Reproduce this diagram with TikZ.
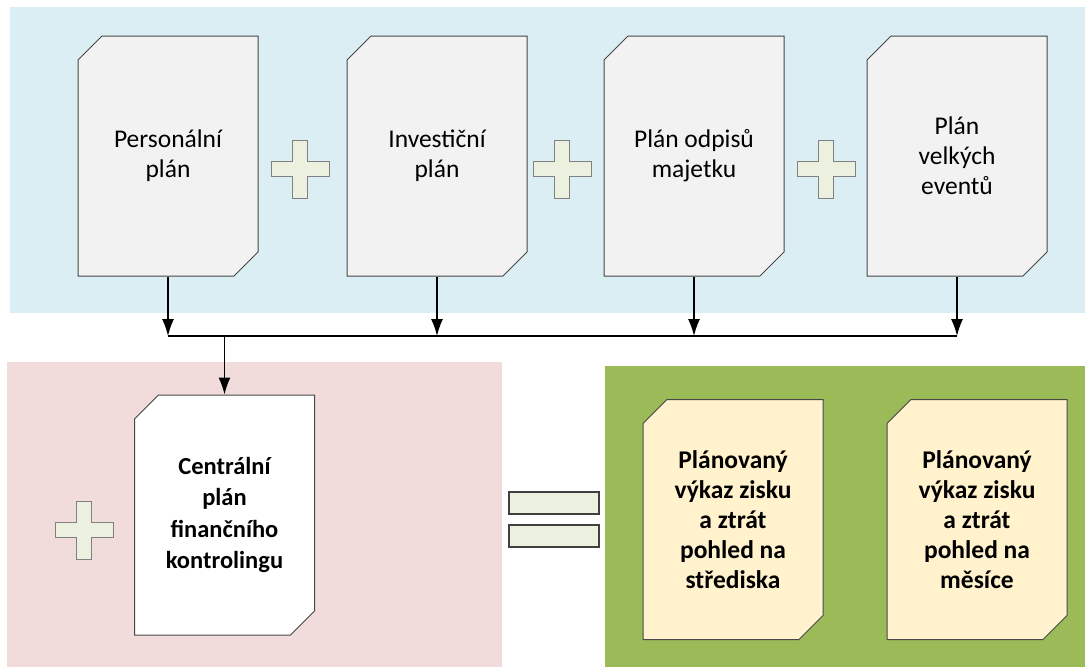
\documentclass[tikz,border=0pt]{standalone}
\usepackage{fontspec}
\setmainfont{Carlito}
\usetikzlibrary{shapes.misc,arrows.meta}
\definecolor{panelblue}{HTML}{DAEEF3}
\definecolor{panelpink}{HTML}{F2DCDB}
\definecolor{panelgreen}{HTML}{9BBB59}
\definecolor{docgray}{HTML}{F2F2F2}
\definecolor{docyellow}{HTML}{FFF2CC}
\definecolor{plusfill}{HTML}{EBF1DE}
\tikzset{
  docbox/.style={chamfered rectangle, chamfered rectangle corners={north west,south east},
    chamfered rectangle xsep=12pt, chamfered rectangle ysep=12pt,
    draw=black!72, line width=1pt, fill=docgray, minimum width=180pt, minimum height=240pt,
    inner sep=0pt, align=center, font=\fontsize{25.5}{30}\selectfont},
  plusbox/.style={draw=black!50, fill=plusfill, line width=1pt},
  conn/.style={line width=1.4pt, -{Latex[length=17pt,width=12pt]}}
}
\newcommand{\plusmark}[1]{%
  \draw[plusbox,shift={(#1)}] (-7.5,-29) -- (7.5,-29) -- (7.5,-7.5) -- (29,-7.5) -- (29,7.5)
    -- (7.5,7.5) -- (7.5,29) -- (-7.5,29) -- (-7.5,7.5) -- (-29,7.5) -- (-29,-7.5) -- (-7.5,-7.5) -- cycle;}
\begin{document}
\begin{tikzpicture}[x=1pt, y=-1pt]
\useasboundingbox[fill=white] (0,0) rectangle (1085,667);
% panels
\fill[panelblue] (10,7) rectangle (1085,313);
\fill[panelpink] (7,362) rectangle (502,667);
\fill[panelgreen] (605,366) rectangle (1085,667);

% partial plans
\foreach \n/\x/\txt in {p1/168/Personální\\plán, p2/437/Investiční\\plán, p3/694/Plán odpisů\\majetku, p4/957/Plán\\velkých\\eventů}
{
    \node[docbox] (\n) at (\x,156) {\txt};
}
\foreach \p in {(300,169),(562,169),(826,169),(84,530)}
{
    \plusmark{\p}
}

% results
\node[docbox, fill=white, font=\fontsize{24.5}{31.5}\selectfont\bfseries] (cen) at (224.5,515) {Centrální\\plán\\finančního\\kontrolingu};
\node[docbox, fill=docyellow, font=\fontsize{25.5}{30}\selectfont\bfseries] (r1) at (733,519.5) {Plánovaný\\výkaz zisku\\a ztrát\\pohled na\\střediska};
\node[docbox, fill=docyellow, font=\fontsize{25.5}{30}\selectfont\bfseries] (r2) at (977,519.5) {Plánovaný\\výkaz zisku\\a ztrát\\pohled na\\měsíce};

% equals
\filldraw[draw=black!75, fill=plusfill, line width=1.2pt] (509,492) rectangle (599,514);
\filldraw[draw=black!75, fill=plusfill, line width=1.2pt] (509,525) rectangle (599,547);

% connectors
\foreach \n in {1,2,3,4}
{
    \coordinate (j\n) at (p\n.south |- 0,336);
    \draw[conn] (p\n.south) -- (j\n);
}
\draw[line width=1.4pt] (j1) -- (j4);
\coordinate (jc) at (cen.north |- j1);
\draw[conn] (jc) -- (cen.north);
\end{tikzpicture}
\end{document}
